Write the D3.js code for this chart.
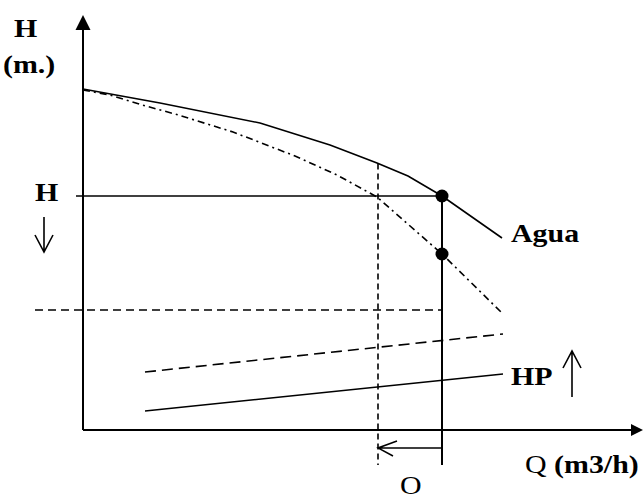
<!DOCTYPE html>
<html>
<head>
<meta charset="utf-8">
<script src="https://cdn.jsdelivr.net/npm/d3@7"></script>
<style>
  html, body { margin: 0; padding: 0; background: #fff; }
  svg { display: block; }
  text { font-family: "Liberation Serif", "Times New Roman", serif; fill: #000; }
</style>
</head>
<body>
<svg id="chart" width="643" height="501"></svg>
<script>
// Pump head curve for water (solid) and for a viscous fluid (dash-dot)
const aguaQ = [0, 15.4, 35.4, 49.4, 58.8, 65, 71.8, 83.8];
const aguaH = [68.2, 65.4, 61.4, 57, 53.4, 50.8, 46.8, 38.4];

const fluidQ = [0, 5.4, 11.8, 18.4, 30, 42.4, 50.8, 58.8, 71.8, 83.8];
const fluidH = [68, 67, 65, 63.2, 59.6, 54.8, 51, 46.6, 35.2, 23.4];

// Power curves: water (solid) and viscous fluid (dashed)
const hpAguaQ = [12.4, 84];
const hpAguaH = [3.8, 11.2];
const hpFluidQ = [12.4, 84];
const hpFluidH = [11.6, 19.2];

// Operating point, reduced flow and reduced head level
const opQ = 71.8, opH = 46.8, opFluidH = 35.2;
const reducedQ = 59;
const lowH = 24;

// Axis labels
const labels = {
  yTop: "H", yUnit: "(m.)", hLevel: "H", agua: "Agua", hp: "HP",
  xName: "Q", xUnit: "(m3/h)", qShift: "O"
};

const svg = d3.select("#chart");
const x = d3.scaleLinear().domain([0, 110]).range([83, 633]);
const y = d3.scaleLinear().domain([0, 80]).range([430, 30]);

const line = d3.line().x(d => x(d[0])).y(d => y(d[1])).curve(d3.curveLinear);
const zip = (a, b) => a.map((v, i) => [v, b[i]]);

// Axes
svg.append("line").attr("x1", x(0)).attr("y1", y(0)).attr("x2", x(0)).attr("y2", 28)
  .attr("stroke", "#000").attr("stroke-width", 2);
svg.append("path").attr("d", `M${x(0)},15 L${x(0) - 7.5},30 L${x(0) + 7.5},30 Z`).attr("fill", "#000");
svg.append("line").attr("x1", x(0)).attr("y1", y(0)).attr("x2", 633).attr("y2", y(0))
  .attr("stroke", "#000").attr("stroke-width", 2);
svg.append("path").attr("d", `M643,${y(0)} L631,${y(0) - 6} L631,${y(0) + 6} Z`).attr("fill", "#000");

// Head curves
svg.append("path").attr("d", line(zip(aguaQ, aguaH)))
  .attr("fill", "none").attr("stroke", "#000").attr("stroke-width", 1.6);
svg.append("path").attr("d", line(zip(fluidQ, fluidH)))
  .attr("fill", "none").attr("stroke", "#000").attr("stroke-width", 1.6)
  .attr("stroke-dasharray", "7,4,2,4");

// Power curves
svg.append("path").attr("d", line(zip(hpAguaQ, hpAguaH)))
  .attr("fill", "none").attr("stroke", "#000").attr("stroke-width", 1.6);
svg.append("path").attr("d", line(zip(hpFluidQ, hpFluidH)))
  .attr("fill", "none").attr("stroke", "#000").attr("stroke-width", 1.6)
  .attr("stroke-dasharray", "11,6");

// Operating head level
svg.append("line").attr("x1", x(0) - 7).attr("x2", x(opQ)).attr("y1", y(opH)).attr("y2", y(opH))
  .attr("stroke", "#000").attr("stroke-width", 1.6);
// Reduced head level
svg.append("line").attr("x1", 35).attr("x2", x(opQ)).attr("y1", y(lowH)).attr("y2", y(lowH))
  .attr("stroke", "#000").attr("stroke-width", 1.6).attr("stroke-dasharray", "8,5");

// Operating flow (solid) and reduced flow (dashed) verticals
const aguaAtReduced = d3.scaleLinear().domain(aguaQ).range(aguaH)(reducedQ);
svg.append("line").attr("x1", x(opQ)).attr("x2", x(opQ)).attr("y1", y(opH)).attr("y2", y(0) + 35)
  .attr("stroke", "#000").attr("stroke-width", 2);
svg.append("line").attr("x1", x(reducedQ)).attr("x2", x(reducedQ))
  .attr("y1", y(aguaAtReduced)).attr("y2", y(0) + 35)
  .attr("stroke", "#000").attr("stroke-width", 1.6).attr("stroke-dasharray", "6,4");

// Flow reduction arrow below the axis
const ay = y(0) + 18;
svg.append("path")
  .attr("d", `M${x(opQ)},${ay} L${x(reducedQ)},${ay} M${x(reducedQ) + 19},${ay - 7} L${x(reducedQ)},${ay} L${x(reducedQ) + 15},${ay + 8}`)
  .attr("fill", "none").attr("stroke", "#000").attr("stroke-width", 1.5);

// Operating points
svg.selectAll("circle.pt").data([[opQ, opH], [opQ, opFluidH]]).join("circle")
  .attr("class", "pt").attr("cx", d => x(d[0])).attr("cy", d => y(d[1])).attr("r", 6.5).attr("fill", "#000");

// Text labels
function label(txt, px, py, weight) {
  return svg.append("text")
    .attr("transform", `translate(${px},${py}) scale(1.15,1)`)
    .attr("font-size", 26).attr("font-weight", weight || "bold").text(txt);
}
label(labels.yTop, 14, 37);
label(labels.yUnit, 3, 73);
label(labels.hLevel, 35, 201);
label(labels.agua, 511, 242);
label(labels.hp, 511, 385);
const qt = svg.append("text")
  .attr("transform", `translate(525,473) scale(1.15,1)`).attr("font-size", 26);
qt.append("tspan").attr("font-weight", "normal").text(labels.xName + " ");
qt.append("tspan").attr("font-weight", "bold").text(labels.xUnit);
label(labels.qShift, 400, 494, "normal");

// Direction arrows next to labels
function arrow(ax, y1, y2) {
  const dir = Math.sign(y2 - y1);
  svg.append("path")
    .attr("d", `M${ax},${y1} L${ax},${y2} M${ax - 9},${y2 - dir * 17} L${ax},${y2} L${ax + 9},${y2 - dir * 17}`)
    .attr("fill", "none").attr("stroke", "#000").attr("stroke-width", 1.6);
}
arrow(44, 217, 252);
arrow(572, 397, 351);
</script>
</body>
</html>
